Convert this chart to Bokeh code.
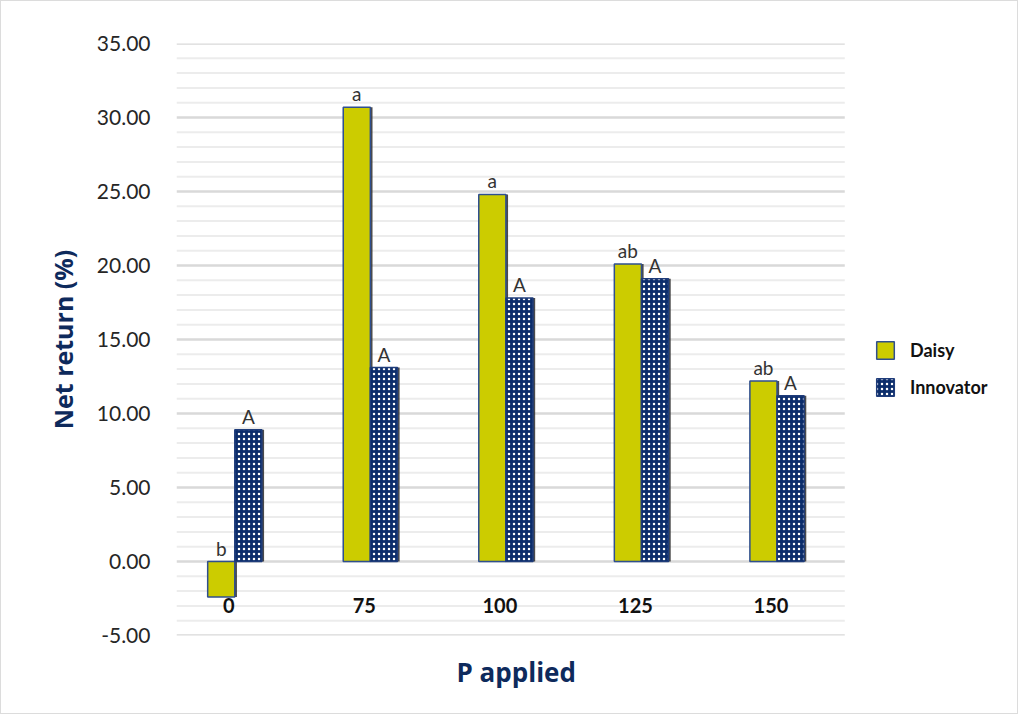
from bokeh.plotting import figure
from bokeh.models import (ColumnDataSource, FixedTicker, Legend, LegendItem,
                          Range1d, NumeralTickFormatter, Title)
from bokeh.core.properties import value
from bokeh.embed import file_html
from bokeh.resources import INLINE

# ---- data ----
categories = ["0", "75", "100", "125", "150"]
daisy = [-2.4, 30.7, 24.8, 20.1, 12.2]
innovator = [8.9, 13.1, 17.8, 19.1, 11.2]
daisy_letters = ["b", "a", "a", "ab", "ab"]
innovator_letters = ["A", "A", "A", "A", "A"]
y_ticks = [-5, 0, 5, 10, 15, 20, 25, 30, 35]
y_minor = [v for v in range(-5, 36) if v % 5 != 0]

idx = list(range(len(categories)))
bw = 0.2
dx = [i - bw / 2 for i in idx]
ix = [i + bw / 2 for i in idx]

# plotting area for the bars (grid extent) in category units
x_lo, x_hi = -0.43, 4.5
x_end = 5.73  # extra room on the right holds the legend

src = ColumnDataSource(dict(
    cat=categories, idx=idx, dx=dx, ix=ix,
    daisy=daisy, innov=innovator,
    dlab=daisy_letters, ilab=innovator_letters,
    dtop=[max(v, 0) for v in daisy], itop=[max(v, 0) for v in innovator],
    dxs=[x + 0.016 for x in dx], ixs=[x + 0.016 for x in ix],
    zero=[0] * len(idx),
))

p = figure(width=1018, height=714,
           x_range=Range1d(x_lo, x_end), y_range=Range1d(-5, 35),
           output_backend="svg", toolbar_location=None,
           min_border_left=175, min_border_right=8,
           min_border_top=42, min_border_bottom=80)
p.outline_line_color = None
p.xgrid.grid_line_color = None
p.ygrid.grid_line_color = None
p.styles = {"border": "1px solid #dcdcdc"}

# y axis
p.yaxis.ticker = FixedTicker(ticks=y_ticks)
p.yaxis.formatter = NumeralTickFormatter(format="0.00")
p.yaxis.axis_line_color = None
p.yaxis.major_tick_line_color = None
p.yaxis.minor_tick_line_color = None
p.yaxis.major_tick_out = 0
p.yaxis.minor_tick_out = 0
p.yaxis.major_label_standoff = 26
p.yaxis.major_label_text_font = "Lato"
p.yaxis.major_label_text_font_size = "21px"
p.yaxis.major_label_text_color = "#262626"
p.yaxis.axis_label = "Net return (%)"
p.yaxis.axis_label_text_font = "Open Sans"
p.yaxis.axis_label_text_font_style = "bold"
p.yaxis.axis_label_text_font_size = "25px"
p.yaxis.axis_label_text_color = "#0E2A5C"
p.yaxis.axis_label_standoff = 14

# x axis hidden; its title is a below-panel Title aligned under the bars
p.xaxis.visible = False
xt = Title(text="P applied", align="left", offset=280, standoff=33,
           text_font="Open Sans", text_font_style="bold",
           text_font_size="26px", text_color="#0E2A5C")
p.add_layout(xt, "below")

# gridlines limited to the bar area
p.segment(x0=x_lo, x1=x_hi, y0=y_minor, y1=y_minor,
          line_color="#ececec", line_width=2)
p.segment(x0=x_lo, x1=x_hi, y0=y_ticks, y1=y_ticks,
          line_color="#d9d9d9", line_width=2.5)

# shadows
p.vbar(x="dxs", top="daisy", bottom=0, width=bw, source=src,
       fill_color="#2b2b2b", fill_alpha=0.85, line_color=None)
p.vbar(x="ixs", top="innov", bottom=0, width=bw, source=src,
       fill_color="#2b2b2b", fill_alpha=0.85, line_color=None)

# bars
rd = p.vbar(x="dx", top="daisy", bottom=0, width=bw, source=src,
            fill_color="#CCCC00", line_color="#2F4F8F", line_width=1.5)
ri = p.vbar(x="ix", top="innov", bottom=0, width=bw, source=src,
            fill_color="#0C2D6B", line_color="#1F3C7A", line_width=1.5,
            hatch_pattern="dot", hatch_color="white", hatch_scale=5,
            hatch_weight=2)

# significance letters
p.text(x="dx", y="dtop", text="dlab", source=src, y_offset=-2,
       text_align="center", text_baseline="bottom",
       text_font=value("Lato"), text_font_size="19px", text_color="#333333")
p.text(x="ix", y="itop", text="ilab", source=src, y_offset=-2,
       text_align="center", text_baseline="bottom",
       text_font=value("Lato"), text_font_size="19px", text_color="#333333")

# category labels
p.text(x="idx", y="zero", text="cat", source=src, x_offset=-6, y_offset=44,
       text_align="center", text_baseline="middle",
       text_font=value("Lato"), text_font_style="bold",
       text_font_size="20px", text_color="#111111")

legend = Legend(items=[LegendItem(label="Daisy", renderers=[rd]),
                       LegendItem(label="Innovator", renderers=[ri])],
                location=(698, 237), orientation="vertical",
                glyph_width=22, glyph_height=22, spacing=15,
                padding=0, margin=0, border_line_color=None,
                background_fill_alpha=0, label_standoff=14,
                label_text_font="Lato", label_text_font_style="bold",
                label_text_font_size="18px", label_text_color="#111111")
p.add_layout(legend, "center")

open("out.html", "w").write(file_html(p, INLINE))
